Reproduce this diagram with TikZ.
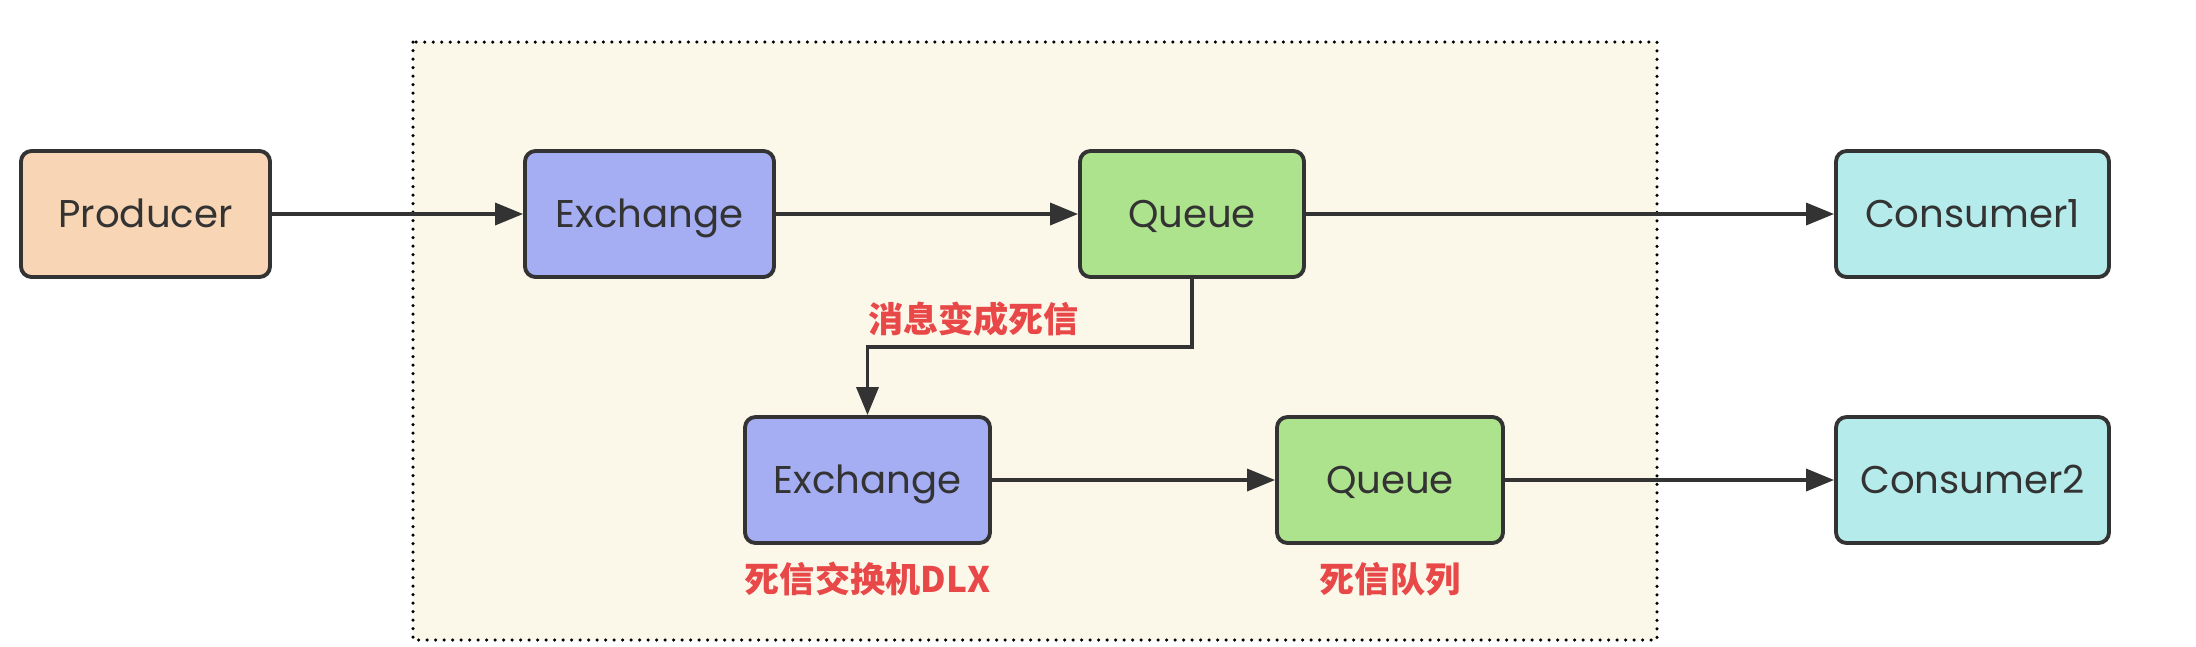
\documentclass[tikz,border=0pt]{standalone}
\usepackage{fontspec}
\setmainfont{Poppins}
\newfontfamily\cjk{Noto Sans CJK SC}
\usepackage{xcolor}
\usepackage{tikz}
\usetikzlibrary{positioning,arrows.meta}
\definecolor{prodfill}{HTML}{F8D5B4}
\definecolor{exfill}{HTML}{A5AEF3}
\definecolor{qfill}{HTML}{AEE38E}
\definecolor{consfill}{HTML}{B5EBEA}
\definecolor{zonefill}{HTML}{FBF8EA}
\definecolor{edgeline}{HTML}{333333}
\definecolor{notered}{HTML}{E84848}
\tikzset{box/.style={draw=edgeline,line width=1.1pt,rounded corners=3pt,minimum height=1.26cm,inner sep=0pt,text height=1.6ex,text depth=0.25ex,text=black!80,font=\fontsize{11}{13}\selectfont},
  note/.style={text=notered,font=\cjk\bfseries\fontsize{10}{12}\selectfont},
  link/.style={draw=edgeline,line width=1pt,-{Triangle[length=0.28cm,width=0.22cm]}},}

\begin{document}
\begin{tikzpicture}
    \useasboundingbox (0,0) rectangle (21.96,-6.46);
    % dead letter zone
    \draw[fill=zonefill,line width=0.035cm,line cap=round,dash pattern=on 0pt off 0.085cm]
        (4.13,-0.42) rectangle (16.57,-6.40);

    \node[box,fill=prodfill,minimum width=2.49cm] (producer) at (1.455,-2.14) {Producer};
    \node[box,fill=exfill,minimum width=2.49cm] (exchange) at (6.495,-2.14) {Exchange};
    \node[box,fill=qfill,minimum width=2.24cm] (queue) at (11.92,-2.14) {Queue};
    \node[box,fill=consfill,minimum width=2.73cm] (consumer1) at (19.725,-2.14) {Consumer1};

    \node[box,fill=exfill,minimum width=2.45cm] (dlx) at (8.675,-4.80) {Exchange};
    \node[box,fill=qfill,minimum width=2.26cm] (dlq) at (13.90,-4.80) {Queue};
    \node[box,fill=consfill,minimum width=2.73cm] (consumer2) at (19.725,-4.80) {Consumer2};

    \node[note] (dlxlabel) [below = 0.05cm of dlx] {死信交换机DLX};
    \node[note] (dlqlabel) [below = 0.05cm of dlq] {死信队列};

    \coordinate (turn) at (dlx.north |- 0,-3.47);
    \node[note,anchor=south west,inner sep=0pt] (deadlabel) at ([yshift=0.1cm]turn) {消息变成死信};

    \path[link]
    (producer) -- (exchange);
    \path[link] (exchange) -- (queue);
    \path[link] (queue) -- (consumer1);
    \path[link] (queue.south) |- (turn) -- (dlx.north);
    \path[link] (dlx) -- (dlq);
    \path[link] (dlq) -- (consumer2);
\end{tikzpicture}
\end{document}
